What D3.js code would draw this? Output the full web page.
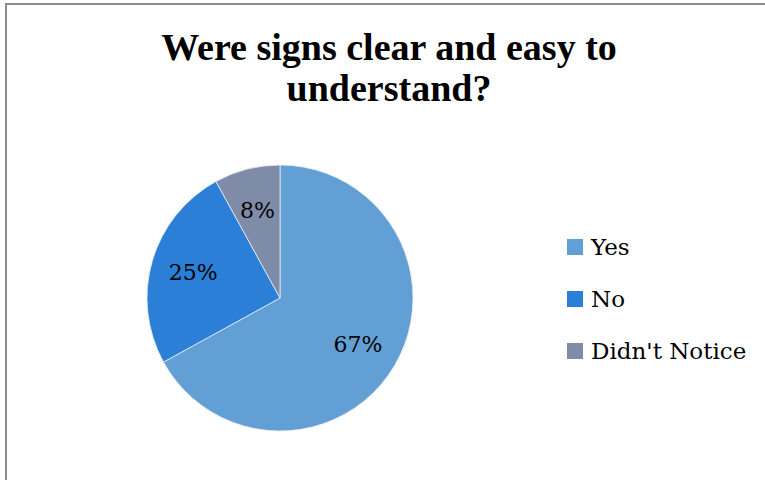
<!DOCTYPE html>
<html>
<head>
<meta charset="utf-8">
<script src="https://cdn.jsdelivr.net/npm/d3@7"></script>
<style>
  html, body { margin: 0; padding: 0; background: #fff; }
  svg { display: block; }
</style>
</head>
<body>
<svg id="chart" width="765" height="480"></svg>
<script>
const categories = ["Yes", "No", "Didn't Notice"];
const values = [67, 25, 8];
const colors = ["#629fd5", "#2b7fd6", "#7e8ca8"];
const titleLines = ["Were signs clear and easy to", "understand?"];

const bodyFont = "'DejaVu Serif', 'Liberation Serif', serif";
const svg = d3.select("#chart");

// chart frame
svg.append("rect")
  .attr("x", 6).attr("y", 4)
  .attr("width", 800).attr("height", 520)
  .attr("fill", "#fff")
  .attr("stroke", "#8c8c8c")
  .attr("stroke-width", 2);

// title
svg.append("text")
  .attr("text-anchor", "middle")
  .attr("font-family", "'Liberation Serif', 'Times New Roman', serif")
  .attr("font-weight", "bold")
  .attr("font-size", 38)
  .attr("fill", "#000")
  .selectAll("tspan")
  .data(titleLines)
  .join("tspan")
  .attr("x", 389)
  .attr("y", (d, i) => 60 + i * 41)
  .text(d => d);

// pie
const cx = 280, cy = 298, r = 133;
const data = categories.map((c, i) => ({ name: c, value: values[i], color: colors[i] }));
const pie = d3.pie().value(d => d.value).sort(null);
const arc = d3.arc().innerRadius(0).outerRadius(r);
const labelArc = d3.arc().innerRadius(r * 0.68).outerRadius(r * 0.68);

const g = svg.append("g").attr("transform", `translate(${cx},${cy})`);
const arcs = pie(data);

g.selectAll("path")
  .data(arcs)
  .join("path")
  .attr("d", arc)
  .attr("fill", d => d.data.color)
  .attr("stroke", "#e8eef6")
  .attr("stroke-width", 0.8);

g.selectAll("text.lbl")
  .data(arcs)
  .join("text")
  .attr("class", "lbl")
  .attr("transform", d => {
    const [x, y] = labelArc.centroid(d);
    return `translate(${x},${y})`;
  })
  .attr("text-anchor", "middle")
  .attr("dy", "0.35em")
  .attr("font-family", bodyFont)
  .attr("font-size", 22)
  .attr("fill", "#000")
  .text(d => d.data.value + "%");

// legend
const legend = svg.append("g").attr("transform", "translate(567,239)");
const items = legend.selectAll("g")
  .data(data)
  .join("g")
  .attr("transform", (d, i) => `translate(0,${i * 52})`);
items.append("rect")
  .attr("width", 16).attr("height", 16)
  .attr("fill", d => d.color);
items.append("text")
  .attr("x", 24).attr("y", 16)
  .attr("font-family", bodyFont)
  .attr("font-size", 23)
  .attr("fill", "#000")
  .text(d => d.name);
</script>
</body>
</html>
